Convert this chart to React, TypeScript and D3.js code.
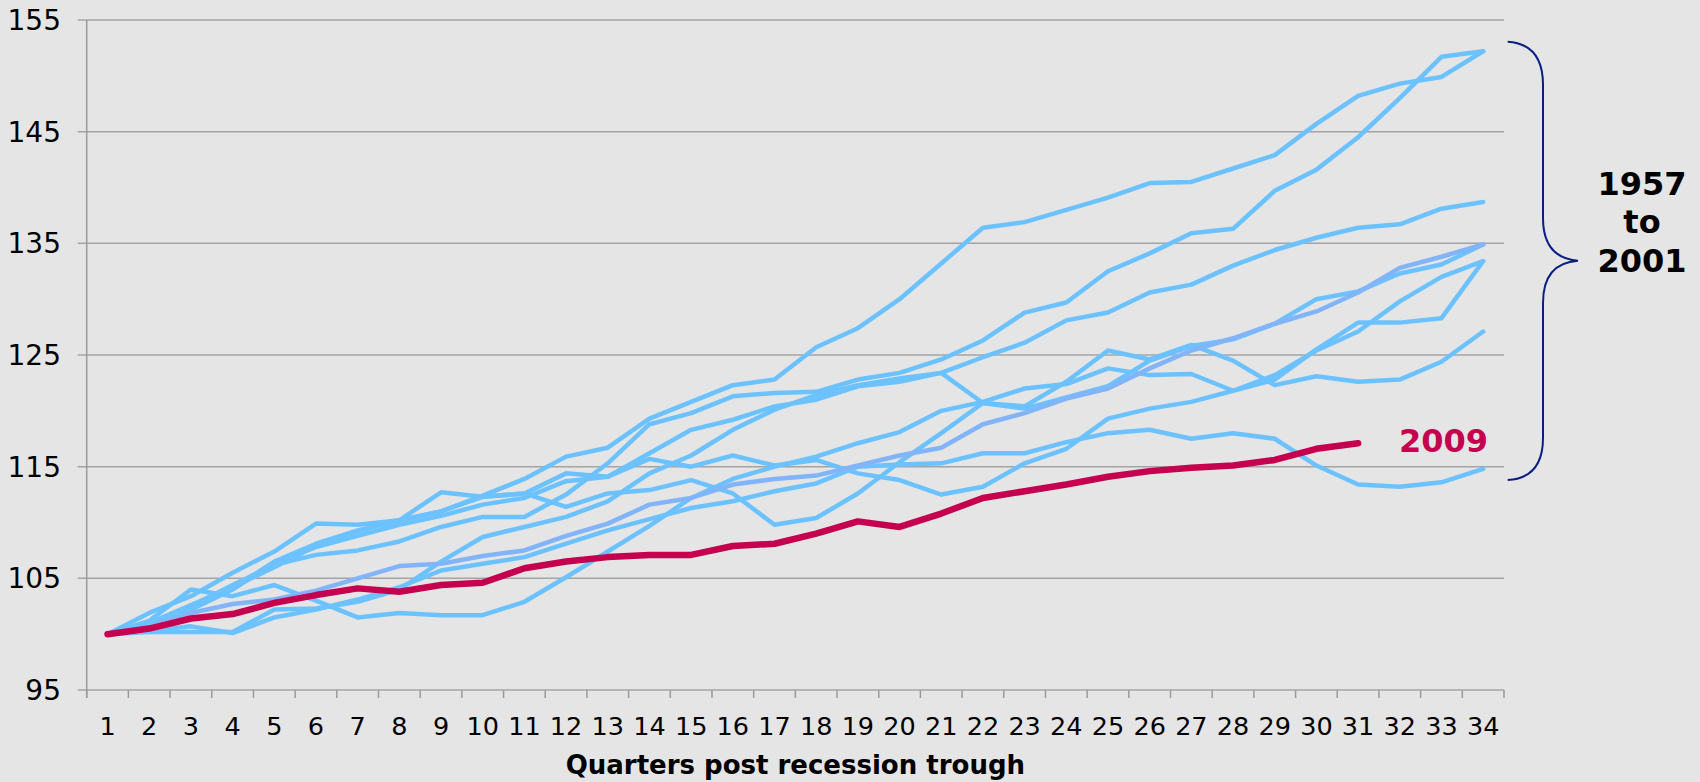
import React from "react";
import * as d3 from "d3";

const quarters = d3.range(1, 35);
const yTicks = [95, 105, 115, 125, 135, 145, 155];

const s1 = [100, 101.0, 102.6, 104.2, 106.0, 107.9, 109.2, 110.2, 111.0, 112.4, 113.9, 115.9, 116.7, 119.3, 120.8, 122.3, 122.8, 125.7, 127.4, 130.0, 133.2, 136.4, 136.9, 138.0, 139.1, 140.4, 140.5, 141.7, 142.9, 145.7, 148.2, 149.3, 149.9, 152.2];
const s2 = [100, 100.5, 102.5, 104.4, 106.2, 107.1, 107.5, 108.3, 109.6, 110.5, 110.5, 112.5, 115.3, 118.8, 119.8, 121.3, 121.6, 121.7, 122.8, 123.4, 124.6, 126.3, 128.8, 129.7, 132.5, 134.1, 135.9, 136.3, 139.7, 141.6, 144.5, 148.0, 151.7, 152.2];
const s3 = [100, 101.0, 102.2, 104.0, 106.4, 107.8, 108.8, 109.8, 110.6, 111.6, 112.2, 113.7, 114.1, 116.2, 118.3, 119.2, 120.4, 121.0, 122.2, 122.6, 123.4, 124.8, 126.1, 128.1, 128.8, 130.6, 131.3, 133.0, 134.4, 135.5, 136.4, 136.7, 138.1, 138.7];
const s4 = [100, 101.0, 102.3, 104.1, 106.5, 108.1, 109.3, 110.2, 111.0, 112.3, 112.6, 114.4, 114.1, 115.7, 115.0, 116.0, 115.1, 115.6, 114.4, 113.8, 112.5, 113.2, 115.3, 116.6, 119.3, 120.2, 120.8, 121.8, 122.8, 125.5, 127.9, 127.9, 128.3, 133.4];
const s5 = [100, 100.2, 100.2, 100.2, 102.2, 102.3, 102.9, 104.0, 106.5, 108.7, 109.6, 110.5, 111.9, 114.4, 116.0, 118.3, 120.1, 121.4, 122.3, 122.9, 123.4, 120.7, 120.4, 122.6, 125.4, 124.6, 125.9, 124.5, 122.3, 123.1, 122.6, 122.8, 124.4, 127.1];
const s6 = [100, 101.9, 103.4, 105.5, 107.4, 109.9, 109.8, 110.2, 112.7, 112.3, 112.6, 111.4, 112.6, 112.9, 113.8, 112.6, 109.8, 110.4, 112.6, 115.4, 118.0, 120.7, 120.2, 121.2, 122.2, 124.5, 125.8, 126.4, 127.8, 130.0, 130.7, 132.3, 133.1, 134.9];
const s7 = [100, 101.2, 104.0, 103.4, 104.4, 103.0, 101.5, 101.9, 101.7, 101.7, 102.9, 105.1, 107.4, 109.7, 112.2, 113.9, 115.0, 115.9, 117.1, 118.1, 120.0, 120.8, 122.0, 122.4, 123.8, 123.2, 123.3, 121.8, 123.2, 125.4, 127.1, 129.8, 132.0, 133.4];
const s8 = [100, 100.3, 100.7, 100.1, 101.5, 102.2, 103.1, 104.2, 105.7, 106.3, 106.9, 108.1, 109.3, 110.3, 111.3, 111.9, 112.8, 113.5, 115.0, 115.2, 115.3, 116.2, 116.2, 117.2, 118.0, 118.3, 117.5, 118.0, 117.5, 115.1, 113.4, 113.2, 113.6, 114.8];
const average = [100, 100.7, 101.9, 102.7, 103.1, 103.9, 105.0, 106.1, 106.3, 107.0, 107.5, 108.8, 109.9, 111.6, 112.2, 113.4, 113.9, 114.2, 115.1, 116.0, 116.7, 118.8, 119.8, 121.1, 122.0, 123.8, 125.4, 126.5, 127.8, 128.9, 130.6, 132.8, 133.8, 134.9];
const r2009 = [100, 100.5, 101.4, 101.8, 102.8, 103.5, 104.1, 103.8, 104.4, 104.6, 105.9, 106.5, 106.9, 107.1, 107.1, 107.9, 108.1, 109.0, 110.1, 109.6, 110.8, 112.2, 112.8, 113.4, 114.1, 114.6, 114.9, 115.1, 115.6, 116.6, 117.1];

const pastSeries = [s1, s2, s3, s4, s5, s6, s7, s8];

const W = 1700;
const H = 782;
const left = 86.7;
const right = 1504;
const top = 20;
const bottom = 690;

export default function App() {
  const x = d3.scalePoint<number>().domain(quarters).range([left, right]).padding(0.5);
  const y = d3.scaleLinear().domain([95, 155]).range([bottom, top]);
  const step = x.step();
  const line = d3
    .line<number>()
    .x((_, i) => x(quarters[i]) as number)
    .y((d) => y(d));

  const font = "'DejaVu Sans', Verdana, sans-serif";
  const boundaries = d3.range(0, quarters.length + 1).map((i) => left + i * step);

  return (
    <svg width={W} height={H} style={{ position: "absolute", left: 0, top: 0 }} fontFamily={font}>
      <rect x={0} y={0} width={W} height={H} fill="#E5E5E5" />
      {yTicks.map((t) => (
        <g key={t}>
          <line x1={left - 9} x2={right} y1={y(t)} y2={y(t)} stroke="#A4A4A4" strokeWidth={1.5} />
          <text x={61} y={y(t)} dy="0.36em" textAnchor="end" fontSize={28} fill="#000">
            {t}
          </text>
        </g>
      ))}
      <line x1={left} x2={left} y1={top} y2={bottom + 8} stroke="#9A9A9A" strokeWidth={1.5} />
      {boundaries.map((bx, i) => (
        <line key={i} x1={bx} x2={bx} y1={bottom} y2={bottom + 8} stroke="#9A9A9A" strokeWidth={1.5} />
      ))}
      {quarters.map((q) => (
        <text key={q} x={x(q)} y={735} textAnchor="middle" fontSize={25.5} fill="#000">
          {q}
        </text>
      ))}
      <text x={(left + right) / 2} y={774} textAnchor="middle" fontSize={26} fontWeight="bold" fill="#000">
        Quarters post recession trough
      </text>
      {pastSeries.map((s, i) => (
        <path key={i} d={line(s) || ""} fill="none" stroke="#6CC2FF" strokeWidth={4.5} strokeLinejoin="round" strokeLinecap="round" />
      ))}
      <path d={line(average) || ""} fill="none" stroke="#82B4FA" strokeWidth={4.5} strokeLinejoin="round" strokeLinecap="round" />
      <path d={line(r2009) || ""} fill="none" stroke="#C4004F" strokeWidth={6.5} strokeLinejoin="round" strokeLinecap="round" />
      <text x={1399} y={451.5} fontSize={32} fontWeight="bold" fill="#C4004F">
        2009
      </text>
      <path
        d="M1507.7,41.7 Q1543,44 1543,85 L1543,218 Q1543,258 1578,260.7 Q1543,263 1543,303 L1543,438 Q1543,478 1507.7,480"
        fill="none"
        stroke="#0B1F82"
        strokeWidth={2}
      />
      <g fontSize={32} fontWeight="bold" fill="#000" textAnchor="middle">
        <text x={1642} y={195}>1957</text>
        <text x={1642} y={233}>to</text>
        <text x={1642} y={271.5}>2001</text>
      </g>
    </svg>
  );
}
